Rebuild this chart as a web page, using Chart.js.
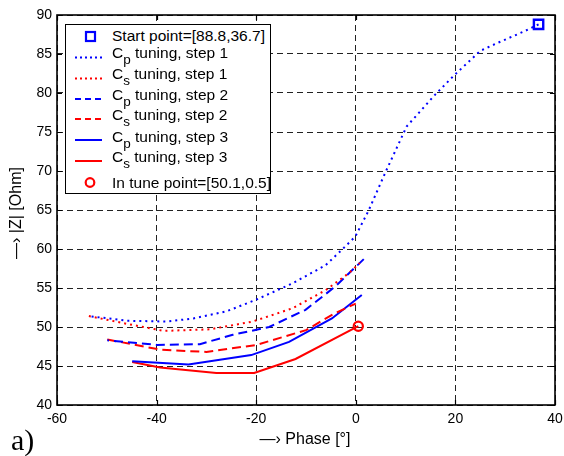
<!DOCTYPE html>
<html>
<head>
<meta charset="utf-8">
<script src="https://cdn.jsdelivr.net/npm/chart.js@4.4.0/dist/chart.umd.min.js"></script>
<style>
  html, body { margin: 0; padding: 0; background: #fff; }
  #wrap { position: relative; width: 564px; height: 456px; overflow: hidden; font-family: "Liberation Sans", Arial, sans-serif; }
  #c { position: absolute; left: 0; top: 0; }
  .t { position: absolute; white-space: nowrap; color: #000; }
  #legend { position: absolute; left: 65px; top: 24px; width: 206px; height: 170px; box-sizing: border-box; border: 1px solid #000; background: #fff; }
  #legend svg { position: absolute; left: 0; top: 0; }
  .lt { position: absolute; left: 46px; font-size: 15.5px; line-height: 18px; white-space: nowrap; }
  .sb { position: relative; top: 6px; font-size: 13.5px; }
</style>
</head>
<body>
<div id="wrap">
  <canvas id="c" width="564" height="456"></canvas>
  <div id="legend">
    <svg width="204" height="168">
      <rect x="20" y="7" width="9" height="9" fill="none" stroke="#0000ff" stroke-width="2.2"/>
      <line x1="9" y1="32.5" x2="36" y2="32.5" stroke="#0000ff" stroke-width="2" stroke-dasharray="2,3"/>
      <line x1="9" y1="53.5" x2="36" y2="53.5" stroke="#ff0000" stroke-width="2" stroke-dasharray="2,3"/>
      <line x1="9" y1="74" x2="36" y2="74" stroke="#0000ff" stroke-width="2" stroke-dasharray="6,4"/>
      <line x1="9" y1="94" x2="36" y2="94" stroke="#ff0000" stroke-width="2" stroke-dasharray="6,4"/>
      <line x1="9" y1="115" x2="36" y2="115" stroke="#0000ff" stroke-width="2"/>
      <line x1="9" y1="136" x2="36" y2="136" stroke="#ff0000" stroke-width="2"/>
      <circle cx="24" cy="157.5" r="4.3" fill="none" stroke="#ff0000" stroke-width="2.2"/>
    </svg>
    <div class="lt" style="top:2.2px">Start point=[88.8,36.7]</div>
    <div class="lt" style="top:18.6px">C<span class="sb">p</span> tuning, step 1</div>
    <div class="lt" style="top:39.5px">C<span class="sb">s</span> tuning, step 1</div>
    <div class="lt" style="top:61.2px">C<span class="sb">p</span> tuning, step 2</div>
    <div class="lt" style="top:81.2px">C<span class="sb">s</span> tuning, step 2</div>
    <div class="lt" style="top:102.9px">C<span class="sb">p</span> tuning, step 3</div>
    <div class="lt" style="top:122.9px">C<span class="sb">s</span> tuning, step 3</div>
    <div class="lt" style="top:148.7px">In tune point=[50.1,0.5]</div>
  </div>
  <div class="t" style="left:305px; top:439px; font-size:16px; transform:translate(-50%,-50%);">—› Phase [°]</div>
  <div class="t" style="left:16px; top:213px; font-size:16px; transform:translate(-50%,-50%) rotate(-90deg);">—› |Z| [Ohm]</div>
  <div class="t" style="left:11px; top:423px; font-size:30px; line-height:34px; font-family:'Liberation Serif','Times New Roman',serif;">a)</div>
</div>
<script>
// ---- Data (phase in degrees, |Z| in Ohm) ----
const cpStep1Phase = [36.7, 33.8, 28.4, 25.0, 19.8, 15.8, 10.2, 6.0, 2.55, -0.1, -2.8, -6.1, -12.7, -20.0, -26.0, -32.6, -37.9, -45.9, -53.6];
const cpStep1Z     = [88.8, 87.9, 86.4, 85.4, 82.3, 79.7, 75.7, 69.9, 64.9, 61.6, 59.9, 57.9, 55.6, 53.5, 52.0, 51.1, 50.7, 50.8, 51.4];

const csStep1Phase = [-53.6, -45.9, -38.6, -29.3, -20.7, -12.7, -6.1, -1.4, 0.8];
const csStep1Z     = [51.4, 50.4, 49.5, 49.7, 50.7, 52.4, 54.7, 56.9, 58.2];

const cpStep2Phase = [1.6, -4.1, -10.1, -17.4, -24.7, -31.3, -39.9, -49.9];
const cpStep2Z     = [58.7, 55.2, 52.2, 50.0, 49.0, 47.8, 47.7, 48.3];

const csStep2Phase = [-49.9, -39.3, -30.0, -20.0, -10.0, -4.1, 0.0];
const csStep2Z     = [48.4, 47.1, 46.8, 47.7, 49.6, 51.8, 53.0];

const cpStep3Phase = [1.2, -4.8, -13.4, -21.0, -33.6, -44.9];
const cpStep3Z     = [54.1, 51.1, 48.1, 46.4, 45.2, 45.6];

const csStep3Phase = [-44.9, -39.3, -28.0, -20.4, -12.1, 0.5];
const csStep3Z     = [45.5, 44.8, 44.1, 44.1, 45.9, 50.1];

const startPoint  = { phase: 36.7, z: 88.8 };
const inTunePoint = { phase: 0.5, z: 50.1 };

const xTicks = [-60, -40, -20, 0, 20, 40];
const yTicks = [40, 45, 50, 55, 60, 65, 70, 75, 80, 85, 90];

const BLUE = '#0000ff', RED = '#ff0000';
const pts = (xs, ys) => xs.map((x, i) => ({ x: x, y: ys[i] }));

function lineDs(label, xs, ys, color, dash) {
  return {
    label: label, data: pts(xs, ys), borderColor: color, backgroundColor: color,
    borderWidth: 2, borderDash: dash, pointRadius: 0, showLine: true, fill: false, tension: 0
  };
}

const frameTicks = {
  id: 'frameTicks',
  afterDatasetsDraw(chart) {
    const { ctx, chartArea: a, scales } = chart;
    ctx.save();
    ctx.strokeStyle = '#000';
    ctx.lineWidth = 1.2;
    ctx.setLineDash([]);
    const L = 5;
    ctx.beginPath();
    xTicks.forEach(v => {
      const px = Math.round(scales.x.getPixelForValue(v)) + 0.5;
      ctx.moveTo(px, a.bottom); ctx.lineTo(px, a.bottom - L);
      ctx.moveTo(px, a.top); ctx.lineTo(px, a.top + L);
    });
    yTicks.forEach(v => {
      const py = Math.round(scales.y.getPixelForValue(v)) + 0.5;
      ctx.moveTo(a.left, py); ctx.lineTo(a.left + L, py);
      ctx.moveTo(a.right, py); ctx.lineTo(a.right - L, py);
    });
    ctx.stroke();
    ctx.lineWidth = 1.6;
    ctx.strokeRect(a.left, a.top, a.right - a.left, a.bottom - a.top);
    ctx.restore();
  }
};

const tickFont = { family: '"Liberation Sans", Arial, sans-serif', size: 14 };

new Chart(document.getElementById('c'), {
  type: 'scatter',
  data: {
    datasets: [
      lineDs('Cp tuning, step 1', cpStep1Phase, cpStep1Z, BLUE, [2, 4]),
      lineDs('Cs tuning, step 1', csStep1Phase, csStep1Z, RED, [2, 4]),
      lineDs('Cp tuning, step 2', cpStep2Phase, cpStep2Z, BLUE, [9, 5]),
      lineDs('Cs tuning, step 2', csStep2Phase, csStep2Z, RED, [9, 5]),
      lineDs('Cp tuning, step 3', cpStep3Phase, cpStep3Z, BLUE, []),
      lineDs('Cs tuning, step 3', csStep3Phase, csStep3Z, RED, []),
      {
        label: 'Start point', data: [{ x: startPoint.phase, y: startPoint.z }],
        pointStyle: 'rect', pointRadius: 6.6, borderColor: BLUE, borderWidth: 2.4,
        backgroundColor: 'rgba(0,0,0,0)', showLine: false
      },
      {
        label: 'In tune point', data: [{ x: inTunePoint.phase, y: inTunePoint.z }],
        pointStyle: 'circle', pointRadius: 4.6, borderColor: RED, borderWidth: 2.2,
        backgroundColor: 'rgba(0,0,0,0)', showLine: false
      }
    ]
  },
  options: {
    responsive: false,
    animation: false,
    devicePixelRatio: 1,
    layout: { padding: { left: 0, right: 5, top: 15, bottom: 0 } },
    plugins: { legend: { display: false }, tooltip: { enabled: false } },
    scales: {
      x: {
        type: 'linear', min: -60, max: 40,
        afterBuildTicks: s => { s.ticks = xTicks.map(v => ({ value: v })); },
        afterFit: s => { s.height = 51; s.paddingLeft = 0; s.paddingRight = 0; },
        grid: { color: '#222', lineWidth: 1, drawTicks: false },
        border: { display: false, dash: [6, 4] },
        ticks: { font: tickFont, color: '#000', padding: 6, maxRotation: 0 }
      },
      y: {
        type: 'linear', min: 40, max: 90,
        afterBuildTicks: s => { s.ticks = yTicks.map(v => ({ value: v })); },
        afterFit: s => { s.width = 57; s.paddingTop = 0; s.paddingBottom = 0; },
        grid: { color: '#222', lineWidth: 1, drawTicks: false },
        border: { display: false, dash: [6, 4] },
        ticks: { font: tickFont, color: '#000', padding: 5 }
      }
    }
  },
  plugins: [frameTicks]
});
</script>
</body>
</html>
